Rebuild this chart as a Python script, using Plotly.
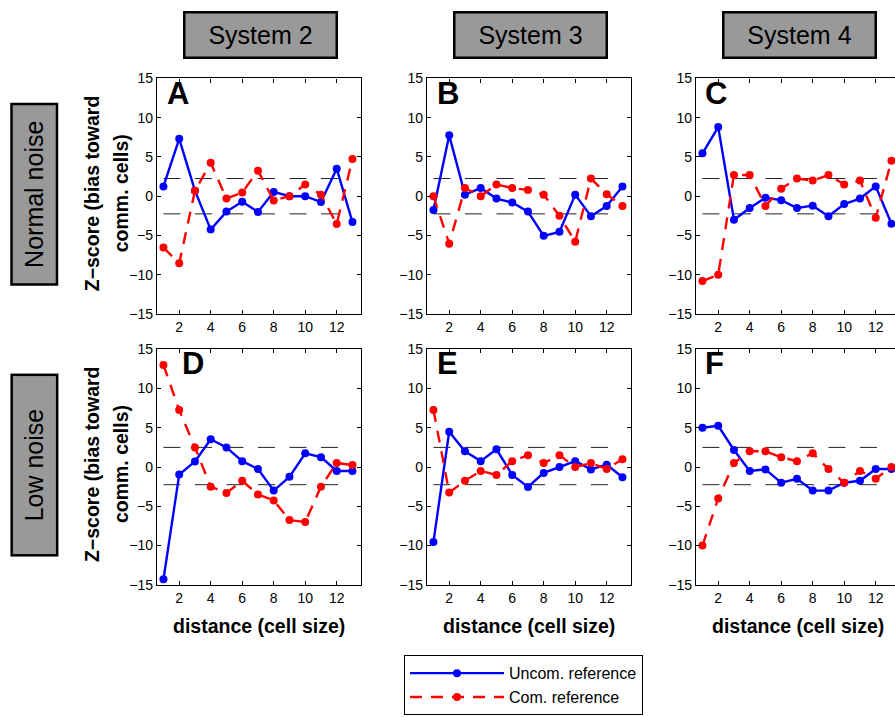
import plotly.graph_objects as go

# distances (in cell sizes) at which the bias z-scores were computed
distance = list(range(1, 14))

# Normal noise condition, Systems 2-4
uncom_A = [1.25, 7.3, 0.7, -4.25, -1.96, -0.7, -2.0, 0.54, 0.0, 0.0, -0.75, 3.5, -3.3]
com_A = [-6.54, -8.54, 0.7, 4.25, -0.3, 0.46, 3.25, -0.54, 0.0, 1.5, 0.2, -3.54, 4.75]
uncom_B = [-1.75, 7.75, 0.2, 1.04, -0.3, -0.8, -1.96, -5.04, -4.54, 0.2, -2.54, -1.25, 1.25]
com_B = [0.0, -6.04, 1.04, 0.0, 1.5, 1.04, 0.8, 0.2, -2.5, -5.8, 2.25, 0.25, -1.25]
uncom_C = [5.46, 8.8, -3.0, -1.5, -0.2, -0.5, -1.5, -1.2, -2.54, -1.0, -0.3, 1.25, -3.5]
com_C = [-10.8, -10.0, 2.7, 2.7, -1.25, 0.96, 2.25, 2.0, 2.7, 1.5, 2.0, -2.75, 4.5]

# Low noise condition, Systems 2-4
uncom_D = [-14.3, -0.96, 0.7, 3.54, 2.5, 0.75, -0.25, -3.0, -1.25, 1.75, 1.25, -0.5, -0.5]
com_D = [13.0, 7.25, 2.5, -2.5, -3.3, -1.75, -3.5, -4.25, -6.75, -7.0, -2.5, 0.5, 0.25]
uncom_E = [-9.54, 4.5, 2.0, 0.75, 2.25, -1.0, -2.54, -0.75, 0.0, 0.75, -0.3, 0.3, -1.3]
com_E = [7.25, -3.25, -1.75, -0.5, -1.0, 0.75, 1.5, 0.5, 1.5, 0.0, 0.5, -0.25, 1.0]
uncom_F = [5.0, 5.25, 2.17, -0.5, -0.3, -2.0, -1.5, -3.0, -3.0, -2.0, -1.75, -0.25, -0.25]
com_F = [-10.0, -4.0, 0.5, 2.0, 2.0, 1.25, 0.75, 1.75, -0.25, -2.0, -0.5, -1.5, 0.0]

# significance thresholds for each noise level (upper, lower)
thr_normal = [2.25, -2.25]
thr_low = [2.5, -2.25]
thr_span = [1, 13]

system_names = ["System 2", "System 3", "System 4"]
row_names = ["Normal noise", "Low noise"]
panel_letters = ["A", "B", "C", "D", "E", "F"]
y_ticks = [-15, -10, -5, 0, 5, 10, 15]
x_ticks = [2, 4, 6, 8, 10, 12]

uncom_series = [uncom_A, uncom_B, uncom_C, uncom_D, uncom_E, uncom_F]
com_series = [com_A, com_B, com_C, com_D, com_E, com_F]
thresholds = [thr_normal] * 3 + [thr_low] * 3

W, H = 895, 717
FONT = "Liberation Sans, Arial, Helvetica, sans-serif"

# panel frames in pixels
col_left = [157, 427, 696]
col_width = 204
row_top = [72, 349]
row_height = 241
# horizontal offset of each panel letter inside its frame (fraction of width)
letter_x = [0.039, 0.039, 0.033, 0.113, 0.039, 0.033]


def px_x(v):
    return v / W


def px_y(v):
    return 1 - v / H


fig = go.Figure()
layout = {}
annotations = []

for i in range(6):
    r, c = divmod(i, 3)
    ax = "" if i == 0 else str(i + 1)
    xa, ya = "x" + ax, "y" + ax
    left = col_left[c]
    right = min(left + col_width, W)
    x_hi = 0.59 + (right - left) / 15.75
    top = row_top[r]
    bot = top + row_height

    layout["xaxis" + ax] = dict(
        domain=[px_x(left), px_x(right)], anchor=ya,
        range=[0.59, x_hi], tickvals=x_ticks, ticks="inside", ticklen=4,
        tickcolor="black", showline=True, linecolor="black", linewidth=1.3,
        mirror="ticks", showgrid=False, zeroline=False,
        tickfont=dict(family=FONT, size=14, color="black"),
    )
    layout["yaxis" + ax] = dict(
        domain=[px_y(bot), px_y(top)], anchor=xa,
        range=[-15, 15], tickvals=y_ticks, ticks="inside", ticklen=4,
        tickcolor="black", showline=True, linecolor="black", linewidth=1.3,
        mirror="ticks" if c < 2 else False, showgrid=False, zeroline=False,
        tickfont=dict(family=FONT, size=14, color="black"),
    )

    for t in thresholds[i]:
        fig.add_trace(go.Scatter(
            x=thr_span, y=[t, t], mode="lines", xaxis=xa, yaxis=ya,
            line=dict(color="#222222", width=1, dash="17px,14.5px"),
            showlegend=False, hoverinfo="skip",
        ))

    fig.add_trace(go.Scatter(
        x=distance, y=uncom_series[i], mode="lines+markers", xaxis=xa, yaxis=ya,
        name="Uncom. reference", legendgroup="uncom", showlegend=(i == 0),
        line=dict(color="#0000FF", width=2.4),
        marker=dict(color="#0000FF", size=8),
        cliponaxis=False,
    ))
    fig.add_trace(go.Scatter(
        x=distance, y=com_series[i], mode="lines+markers", xaxis=xa, yaxis=ya,
        name="Com. reference", legendgroup="com", showlegend=(i == 0),
        line=dict(color="#FF0000", width=2.4, dash="12px,9px"),
        marker=dict(color="#FF0000", size=8),
        cliponaxis=False,
    ))

    # panel letter
    annotations.append(dict(
        text="<b>%s</b>" % panel_letters[i], xref=xa + " domain", yref=ya + " domain",
        x=letter_x[i], y=1.02, xanchor="left", yanchor="top", showarrow=False,
        font=dict(family=FONT, size=31, color="black"),
    ))

    if r == 1:
        annotations.append(dict(
            text="<b>distance (cell size)</b>", xref="paper", yref="paper",
            x=px_x(left + col_width / 2), y=px_y(632), xanchor="center", yanchor="middle",
            showarrow=False, font=dict(family=FONT, size=19.5, color="black"),
        ))

# column headers
for c, name in enumerate(system_names):
    annotations.append(dict(
        text=name, xref="paper", yref="paper",
        x=px_x(col_left[c] + col_width / 2 + 1), y=px_y(28), xanchor="center", yanchor="middle",
        showarrow=False, font=dict(family=FONT, size=25, color="black"),
        bgcolor="#999999", bordercolor="black", borderwidth=2.5, borderpad=0,
        width=150, height=43,
    ))

# row headers and y-axis titles
for r, name in enumerate(row_names):
    cy = row_top[r] + row_height / 2
    annotations.append(dict(
        text=name, xref="paper", yref="paper",
        x=px_x(34.5), y=px_y(cy - 2), xanchor="center", yanchor="middle",
        textangle=-90, showarrow=False, font=dict(family=FONT, size=25, color="black"),
        bgcolor="#999999", bordercolor="black", borderwidth=2.5, borderpad=0,
        width=178, height=43,
    ))
    annotations.append(dict(
        text="<b>Z\u2212score (bias toward</b>", xref="paper", yref="paper",
        x=px_x(92), y=px_y(cy - 3), xanchor="center", yanchor="middle",
        textangle=-90, showarrow=False, font=dict(family=FONT, size=19.5, color="black"),
    ))
    annotations.append(dict(
        text="<b>comm. cells)</b>", xref="paper", yref="paper",
        x=px_x(121), y=px_y(cy - 3), xanchor="center", yanchor="middle",
        textangle=-90, showarrow=False, font=dict(family=FONT, size=19.5, color="black"),
    ))

fig.update_layout(
    width=W, height=H,
    margin=dict(l=0, r=0, t=0, b=0),
    paper_bgcolor="white", plot_bgcolor="white",
    annotations=annotations,
    showlegend=True,
    legend=dict(
        x=px_x(404), y=px_y(662), xanchor="left", yanchor="top",
        bordercolor="black", borderwidth=1, bgcolor="white",
        font=dict(family=FONT, size=16, color="black"),
        itemwidth=94, tracegroupgap=0,
    ),
    **layout,
)

fig.write_html("out.html")
